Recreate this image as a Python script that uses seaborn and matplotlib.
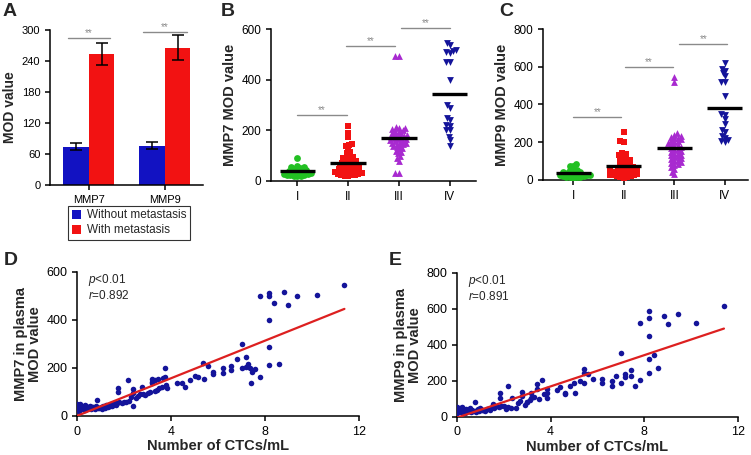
import warnings
import numpy as np
import pandas as pd
import matplotlib
matplotlib.use("Agg")
import matplotlib.pyplot as plt
import seaborn as sns

warnings.filterwarnings("ignore")

# ==========================================
# DATA
# ==========================================
# Panel A: mean MOD value +/- error
genes = ["MMP7", "MMP9"]
groups = ["Without metastasis", "With metastasis"]
mean_without = [74, 76]
mean_with = [253, 266]
err_without = [7, 7]
err_with = [21, 24]

# Panel B: MMP7 MOD value by stage
stages = ["I", "II", "III", "IV"]
b_I = [92, 58, 57, 55, 52, 48, 45, 42, 40, 38, 36, 34, 32, 30, 28, 26, 25, 24, 22, 21, 20, 20]
b_II = [218, 189, 175, 148, 142, 138, 128, 115, 110, 100, 95, 92, 90, 85, 80, 78, 72, 70,
        65, 62, 58, 55, 52, 48, 45, 42, 40, 38, 35, 33, 30, 28, 26, 24, 22, 20, 18,
        36, 44, 50, 60, 68, 25, 32]
b_III = [496, 496, 212, 210, 208, 205, 200, 198, 195, 190, 188, 185, 182, 180, 178, 175,
         172, 170, 168, 165, 162, 160, 158, 155, 152, 150, 148, 145, 140, 138, 135, 130,
         125, 120, 115, 110, 100, 92, 80, 30, 30]
b_IV = [545, 538, 518, 515, 512, 508, 472, 470, 400, 300, 290, 248, 241, 221, 218, 202,
        200, 175, 162, 140]

# Panel C: MMP9 MOD value by stage
c_I = [85, 76, 72, 55, 53, 48, 44, 40, 38, 35, 32, 30, 28, 26, 25, 22, 20, 18, 16, 15, 14, 12]
c_II = [256, 208, 203, 145, 140, 132, 128, 120, 115, 110, 105, 100, 95, 90, 85, 80, 75, 70,
        65, 62, 58, 55, 50, 48, 45, 42, 40, 38, 35, 32, 30, 28, 25, 22, 20, 18, 15, 12,
        24, 36, 52, 68]
c_III = [544, 517, 247, 240, 235, 230, 225, 220, 215, 210, 205, 200, 195, 190, 185, 180,
         175, 170, 165, 160, 155, 150, 145, 140, 135, 130, 125, 120, 115, 110, 100, 90,
         80, 70, 44, 32, 60, 85, 95, 105]
c_IV = [618, 586, 579, 565, 551, 521, 521, 445, 348, 344, 321, 295, 265, 256, 233, 221,
        212, 207, 203]

# Panel D: CTCs vs MMP7
d_ctc = [0, 0, 0, 0, 0.05, 0.08, 0.1, 0.12, 0.15, 0.2, 0.22, 0.25, 0.3, 0.32, 0.35, 0.4,
         0.45, 0.5, 0.55, 0.6, 0.65, 0.7, 0.75, 0.8, 0.85, 0.9, 0.95, 1.0,
         1.05, 1.1, 1.2, 1.25, 1.3, 1.4, 1.45, 1.5, 1.55, 1.6, 1.65, 1.7, 1.76, 1.76, 1.8,
         1.9, 2.0,
         2.1, 2.18, 2.2, 2.3, 2.4, 2.4, 2.4, 2.5, 2.6, 2.7, 2.75, 2.8, 2.9, 3.0, 3.1, 3.18,
         3.18, 3.2, 3.3, 3.32, 3.4, 3.46, 3.5, 3.6, 3.67, 3.74, 3.75, 3.8, 3.82,
         4.24, 4.45, 4.6, 4.8, 5.0, 5.16, 5.37, 5.4, 5.58, 5.8, 5.8, 6.2, 6.2, 6.57, 6.57,
         6.8, 7.0, 7.0, 7.18, 7.18, 7.28, 7.35, 7.42, 7.46, 7.56, 7.77,
         7.8, 8.17, 8.17, 8.17, 8.17, 8.17, 8.4, 8.58, 8.79, 8.99, 9.38, 10.2, 11.38]
d_mmp7 = [25, 35, 45, 50, 30, 40, 22, 48, 35, 28, 42, 38, 30, 46, 25, 40, 35, 32, 42, 28,
          38, 36, 30, 40, 67, 32, 35, 38,
          30, 40, 35, 45, 38, 42, 50, 40, 48, 52, 45, 55, 101, 115, 58, 55, 60,
          58, 150, 62, 80, 94, 111, 42, 75, 85, 90, 122, 92, 88, 95, 100, 152, 139, 140,
          105, 150, 108, 152, 115, 120, 159, 198, 164, 130, 115,
          136, 136, 120, 150, 168, 164, 222, 152, 208, 184, 175, 198, 180, 208, 191, 236,
          298, 198, 247, 205, 216, 198, 136, 184, 194, 163,
          500, 513, 499, 399, 288, 212, 471, 215, 517, 461, 500, 503, 545]

# Panel E: CTCs vs MMP9
e_ctc = [0, 0, 0, 0, 0.05, 0.08, 0.1, 0.12, 0.15, 0.2, 0.22, 0.25, 0.3, 0.32, 0.35, 0.4,
         0.45, 0.5, 0.55, 0.6, 0.65, 0.7, 0.77, 0.8, 0.85, 0.9, 0.95, 1.0,
         1.05, 1.1, 1.2, 1.3, 1.4, 1.5, 1.55, 1.6, 1.7, 1.8, 1.83, 1.83, 1.9, 2.0,
         2.1, 2.19, 2.19, 2.3, 2.33, 2.5, 2.62, 2.7, 2.76, 2.76, 2.9, 2.97, 3.0, 3.1, 3.18,
         3.18, 3.3, 3.4, 3.4, 3.5, 3.61, 3.7, 3.83, 3.83, 3.83,
         4.25, 4.39, 4.6, 4.6, 4.82, 5.0, 5.03, 5.25, 5.43, 5.43, 5.43, 5.6, 5.82, 6.2, 6.2,
         6.6, 6.6, 6.81, 7.02, 7.02, 7.19, 7.19, 7.42, 7.42, 7.59, 7.8, 7.8, 8.19, 8.19,
         8.19, 8.19, 8.19, 8.42, 8.6, 8.82, 9.02, 9.42, 10.2, 11.4]
e_mmp9 = [20, 30, 40, 55, 25, 45, 35, 50, 28, 40, 52, 30, 45, 35, 22, 42, 38, 30, 48, 25,
          40, 32, 83, 28, 35, 45, 30, 48,
          35, 40, 32, 45, 38, 55, 70, 48, 60, 55, 133, 102, 62, 58,
          45, 172, 56, 48, 102, 50, 74, 90, 139, 115, 65, 83, 80, 95, 133, 102, 110, 152,
          181, 100, 204, 125, 152, 102, 130,
          148, 167, 133, 126, 170, 185, 133, 200, 263, 244, 185, 237, 207, 207, 185, 200,
          172, 226, 189, 352, 237, 222, 226, 259, 170, 204, 522, 587, 550, 448, 319, 244,
          343, 272, 559, 515, 570, 522, 617]

# ==========================================
# STYLE
# ==========================================
sns.set_style("ticks")
plt.rcParams["font.family"] = ["Liberation Sans", "DejaVu Sans"]
plt.rcParams["mathtext.fontset"] = "custom"
plt.rcParams["mathtext.it"] = "Liberation Sans:italic"
plt.rcParams["mathtext.rm"] = "Liberation Sans"
plt.rcParams["axes.linewidth"] = 1.1
plt.rcParams["xtick.major.width"] = 1.1
plt.rcParams["ytick.major.width"] = 1.1
plt.rcParams["xtick.major.size"] = 3.5
plt.rcParams["ytick.major.size"] = 3.5
plt.rcParams["xtick.color"] = "black"
plt.rcParams["ytick.color"] = "black"

BLUE = "#1212c2"
RED = "#f21212"
GREEN = "#22c022"
PURPLE = "#a82ad0"
NAVY = "#14149a"
SIG_GRAY = "#8a8a8a"
LINE_RED = "#dd2020"

W, H = 751, 455
fig = plt.figure(figsize=(W / 100, H / 100), dpi=100)


def px_axes(x0, y0, x1, y1):
    # pixel box (top-left origin) -> figure axes
    return fig.add_axes([x0 / W, 1 - y1 / H, (x1 - x0) / W, (y1 - y0) / H])


def style_spines(ax):
    sns.despine(ax=ax)
    for s in ["left", "bottom"]:
        ax.spines[s].set_color("black")


def sig_bar(ax, x0, x1, y, fs=7):
    ax.plot([x0, x1], [y, y], color=SIG_GRAY, lw=1.0, clip_on=False)
    ax.text((x0 + x1) / 2, y, "**", color=SIG_GRAY, fontsize=fs, ha="center",
            va="bottom", clip_on=False)


# ==========================================
# PANEL A: BAR CHART
# ==========================================
ax_a = px_axes(50, 30, 203, 185)
df_a = pd.DataFrame({
    "gene": genes * 2,
    "group": [groups[0]] * 2 + [groups[1]] * 2,
    "value": mean_without + mean_with,
})
sns.barplot(data=df_a, x="gene", y="value", hue="group", hue_order=groups,
            palette=[BLUE, RED], width=0.67, errorbar=None, linewidth=0,
            saturation=1, ax=ax_a)
for cont, errs in zip(ax_a.containers, [err_without, err_with]):
    for bar, e in zip(cont, errs):
        ax_a.errorbar(bar.get_x() + bar.get_width() / 2, bar.get_height(), yerr=e,
                      color="black", capsize=4, elinewidth=1.1, capthick=1.1)
ax_a.set_xlim(-0.51, 1.5)
ax_a.set_ylim(0, 300)
ax_a.set_yticks([0, 60, 120, 180, 240, 300])
ax_a.set_xlabel("")
ax_a.set_ylabel("MOD value", fontsize=10, fontweight="bold", labelpad=3)
ax_a.tick_params(labelsize=8)
style_spines(ax_a)
sig_bar(ax_a, -0.28, 0.28, 284)
sig_bar(ax_a, 0.71, 1.29, 295.5)
sns.move_legend(ax_a, "upper left", bbox_to_anchor=(0.118, -0.135), title=None,
                frameon=True, fancybox=False, fontsize=8.5, handlelength=0.8,
                handleheight=0.8, handletextpad=0.5, borderpad=0.3,
                labelspacing=0.25, borderaxespad=0)
leg = ax_a.get_legend()
leg.get_frame().set_edgecolor("black")
leg.get_frame().set_linewidth(0.8)

# ==========================================
# PANELS B & C: DOT PLOTS
# ==========================================
markers = ["o", "s", "^", "v"]
colors = [GREEN, RED, PURPLE, NAVY]
swarm_colls = []


def dot_panel(ax, values, ylim, yticks, ylabel, xlim, sigs):
    ax.set_xlim(*xlim)
    ax.set_ylim(*ylim)
    for i, (vals, m, c) in enumerate(zip(values, markers, colors)):
        n_before = len(ax.collections)
        sns.swarmplot(x=[stages[i]] * len(vals), y=vals, order=stages, marker=m,
                      color=c, size=2.4, linewidth=0, ax=ax)
        swarm_colls.extend(ax.collections[n_before:])
        mean_v = np.mean(vals)
        ax.hlines(mean_v, i - 0.35, i + 0.35, color="black", lw=2.4, zorder=5)
    ax.set_xlim(*xlim)
    ax.set_ylim(*ylim)
    ax.set_yticks(yticks)
    ax.set_ylabel(ylabel, fontsize=10.5, fontweight="bold", labelpad=3)
    ax.tick_params(labelsize=8.5)
    style_spines(ax)
    for x0, x1, y in sigs:
        sig_bar(ax, x0, x1, y)


ax_b = px_axes(271, 29.3, 476, 181)
dot_panel(ax_b, [b_I, b_II, b_III, b_IV], (0, 600), [0, 200, 400, 600],
          "MMP7 MOD value", (-0.52, 3.52),
          [(0.0, 0.97, 261), (0.96, 1.92, 535), (2.05, 3.0, 604)])

ax_c = px_axes(543, 29, 748, 180)
dot_panel(ax_c, [c_I, c_II, c_III, c_IV], (0, 800), [0, 200, 400, 600, 800],
          "MMP9 MOD value", (-0.6, 3.46),
          [(0.0, 0.95, 332), (1.03, 1.97, 600), (2.1, 3.05, 719)])

# ==========================================
# PANELS D & E: CORRELATION SCATTER
# ==========================================
def corr_panel(ax, x, y, ylim, yticks, ylabel, r_txt):
    sns.scatterplot(x=x, y=y, color=NAVY, s=16, linewidth=0, ax=ax, zorder=3)
    sns.regplot(x=x, y=y, scatter=False, ci=None, truncate=True,
                line_kws={"color": LINE_RED, "lw": 1.6, "zorder": 4}, ax=ax)
    ax.set_xlim(0, 12)
    ax.set_ylim(*ylim)
    ax.set_xticks([0, 4, 8, 12])
    ax.set_yticks(yticks)
    ax.set_xlabel("Number of CTCs/mL", fontsize=10.5, fontweight="bold", labelpad=1)
    ax.set_ylabel(ylabel, fontsize=10.5, fontweight="bold", labelpad=3,
                  linespacing=1.0)
    ax.tick_params(labelsize=9)
    style_spines(ax)
    ax.text(0.04, 1.0, "$p$<0.01\n$r$=" + r_txt, transform=ax.transAxes,
            fontsize=8.5, va="top", ha="left", linespacing=1.15)


ax_d = px_axes(77, 271.7, 359, 416)
corr_panel(ax_d, d_ctc, d_mmp7, (0, 600), [0, 200, 400, 600],
           "MMP7 in plasma\nMOD value", "0.892")

ax_e = px_axes(457, 272.7, 738, 416.7)
corr_panel(ax_e, e_ctc, e_mmp9, (0, 800), [0, 200, 400, 600, 800],
           "MMP9 in plasma\nMOD value", "0.891")

# ==========================================
# PANEL LETTERS
# ==========================================
for letter, (lx, ly) in {"A": (3, 3), "B": (221, 3), "C": (499, 3),
                         "D": (4, 252), "E": (389, 252)}.items():
    fig.text(lx / W, 1 - ly / H, letter, fontsize=14, fontweight="bold",
             ha="left", va="top")

# lay out swarms with compact markers, then freeze positions and enlarge markers
# so they overlap like the GraphPad original
fig.canvas.draw()
for coll in swarm_colls:
    if "draw" in coll.__dict__:
        del coll.draw
    coll.set_sizes([24])

fig.savefig("out.png", dpi=100)
plt.close(fig)
